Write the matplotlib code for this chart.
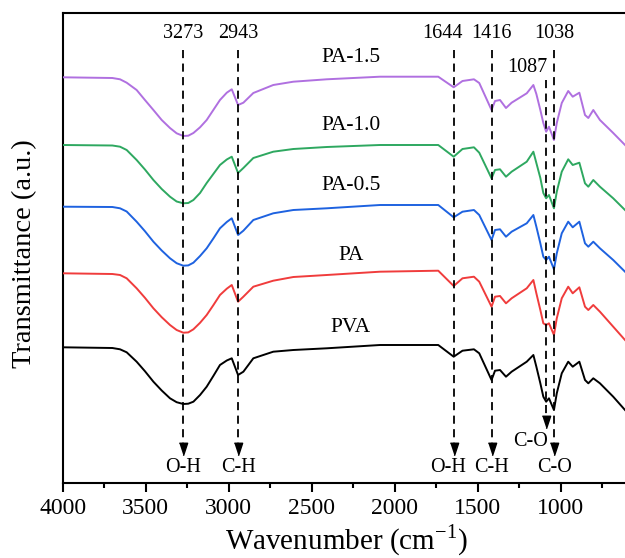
import matplotlib
matplotlib.use("Agg")
import matplotlib.pyplot as plt
from matplotlib.ticker import MultipleLocator

plt.rcParams['font.family'] = ['Liberation Serif', 'DejaVu Serif']
plt.rcParams['mathtext.fontset'] = 'custom'
plt.rcParams['mathtext.rm'] = 'Liberation Serif'

# Wavenumber (cm-1) sample points
wavenumber = [4000, 3700, 3654, 3614, 3554, 3504, 3453, 3403, 3353, 3313, 3273, 3243,
              3212, 3172, 3132, 3092, 3052, 3011, 2981, 2943, 2911,
              2851, 2731, 2610, 2409, 2088, 1737, 1644, 1591, 1522, 1490, 1416, 1395,
              1365, 1329, 1295, 1204, 1164, 1146, 1122, 1104, 1087, 1070, 1040, 1023,
              993, 954, 927, 887, 853, 833, 803, 763, 683, 612]

# Offset transmittance (a.u.) for each sample
pa_15 = [405.7, 405, 403.7, 400.3, 393, 383, 373, 363, 355, 349.7, 347, 347.3,
         350, 355.7, 363, 373, 383, 390.3, 393.7, 378, 380.3,
         390, 398, 401.3, 403.7, 406.3, 406.3, 395.7, 402, 403.7, 400, 373, 382,
         383, 375, 380.3, 389.7, 398, 389, 373, 360, 351.3, 356.3, 343, 360,
         380, 392, 386.3, 390.3, 368, 365, 373, 363, 350, 338]
pa_10 = [338, 337.5, 336.3, 333, 323, 313.5, 303, 294, 286.3, 281.5, 279.7, 280,
         283, 290, 300, 309, 318, 323.5, 326.3, 310, 315,
         325, 331.3, 334, 336, 338, 338, 326.3, 334, 335.7, 330.3, 304.7, 313,
         313.7, 306.3, 311.3, 321.3, 331.3, 320, 305, 290, 284.7, 288, 274.7, 291.3,
         311.3, 323.7, 318, 320.3, 299.7, 296.3, 303, 296.3, 284.7, 273]
pa_05 = [276.3, 276, 274.7, 271.5, 261.3, 251.8, 241.3, 232.5, 224.7, 219.8, 217.3, 217.6,
         220.3, 227, 234.7, 244.5, 254.7, 261, 264.7, 248, 252.3,
         263, 269.7, 273, 274.7, 278, 278, 265.7, 271.3, 273, 268, 243, 253,
         253.7, 246.3, 251.3, 259.7, 268, 256.3, 239.7, 226.3, 223, 226.3, 213.7, 229.7,
         249.7, 261.3, 255.7, 261.3, 239.7, 236.3, 241.3, 234.7, 223, 211.3]
pa = [209.7, 209, 208, 204.7, 194.7, 185.2, 174.7, 165.8, 158, 153, 150.3, 150.6,
      153.7, 160.2, 168, 177.8, 188, 194.3, 198, 181.3, 186.3,
      196.3, 202.3, 206, 208, 211.3, 212.3, 197, 204.7, 206.3, 201.3, 176.3, 186.3,
      187, 179.7, 184.7, 194.7, 203, 189.7, 173, 159.7, 158, 159.7, 148, 164.7,
      184.7, 196.3, 189.7, 195.7, 176.3, 173, 178, 171.3, 156.3, 143]
pva = [135.7, 135, 133.7, 130.7, 121.3, 111.8, 101.3, 92.5, 84.7, 80.8, 79, 79.3,
       81.3, 88, 96.3, 107, 118, 122.5, 124.7, 108, 111.3,
       124.7, 131.3, 133, 134.7, 138, 138, 126.3, 132.3, 133.7, 129.7, 103, 112.3,
       113, 106.3, 111.3, 121.3, 128, 116.3, 99.7, 86.3, 81.3, 84.7, 73, 89.7,
       109.7, 121.3, 116.3, 121.3, 103, 99.7, 104.7, 99.7, 86.3, 73]

series_names = ['PA-1.5', 'PA-1.0', 'PA-0.5', 'PA', 'PVA']
series_values = [pa_15, pa_10, pa_05, pa, pva]
series_colors = ['#B070E0', '#2EA860', '#1E62E0', '#F03C3C', '#000000']
label_y = [425, 357, 298, 228, 156]

# Peak markers
peaks = [3273, 2943, 1644, 1416, 1087, 1038]
peak_bonds = ['O-H', 'C-H', 'O-H', 'C-H', 'C-O', 'C-O']

fig = plt.figure(figsize=(6.25, 5.58), dpi=100)
ax = fig.add_axes([62.6 / 625, 1 - 483 / 558, 1 - 62.6 / 625, 470 / 558])

for name, vals, col, ly in zip(series_names, series_values, series_colors, label_y):
    ax.plot(wavenumber, vals, color=col, lw=1.4, zorder=3, solid_joinstyle='round')
    ax.text(2263, ly, name, ha='center', va='center', fontsize=15.5)

tri = [(-0.33, 0.5), (0.33, 0.5), (0.0, -0.5)]
for w, bond in zip(peaks, peak_bonds):
    if w == 1087:
        top, tip, lab_y, lab_x = 403, 55, 42, 1075
        ax.text(1080, 415, str(w), ha='right', va='center', fontsize=14.5)
    else:
        top, tip, lab_y, lab_x = 433, 28, 16, w
        tx = 1714 if w == 1644 else w
        ax.text(tx, 450, str(w), ha='center', va='center', fontsize=14.5)
    ax.plot([w, w], [top, tip + 10], color='k', lw=1.3, ls=(0, (4.5, 3)), zorder=4)
    ax.plot([w], [tip + 6], marker=tri, markersize=9, color='k', zorder=5, ls='none')
    if w == 1644:
        lab_x = 1680
    ax.text(lab_x, lab_y, bond, ha='right' if w == 1087 else 'center', va='center',
            fontsize=14.5)

ax.set_xlim(4000, 612)
ax.set_ylim(0, 470)
ax.set_yticks([])
ax.xaxis.set_major_locator(MultipleLocator(500))
ax.xaxis.set_minor_locator(MultipleLocator(250))
ax.tick_params(axis='x', which='major', direction='out', length=6.5, width=1.5,
               labelsize=17, pad=4)
ax.tick_params(axis='x', which='minor', direction='out', length=3.5, width=1.5)
for s in ['left', 'top', 'bottom']:
    ax.spines[s].set_linewidth(1.5)
ax.spines['right'].set_visible(False)

fig.text(346 / 625, 1 - 540 / 558, 'Wavenumber (cm$^{-1}$)', ha='center', va='center', fontsize=21)
fig.text(25 / 625, 1 - 254 / 558, 'Transmittance (a.u.)', ha='center', va='center',
         rotation=90, fontsize=20.5)

fig.savefig('out.png', dpi=100)
